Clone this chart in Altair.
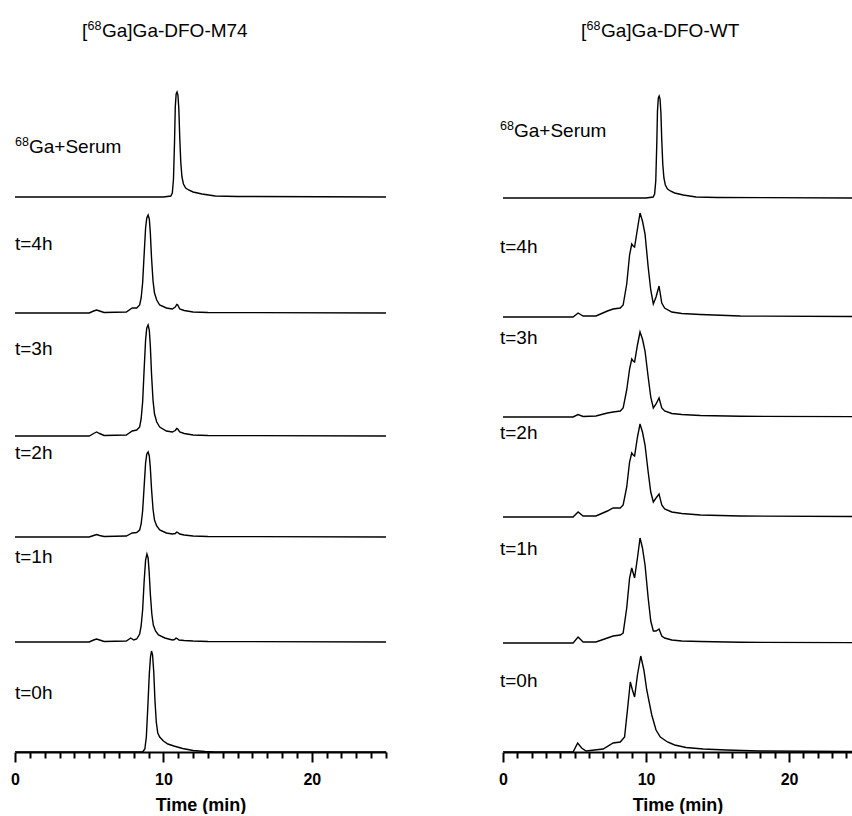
import altair as alt
import pandas as pd

# ---------------- data ----------------
TRACE_NAMES = ["serum", "4h", "3h", "2h", "1h", "0h"]

# Left panel: [68Ga]Ga-DFO-M74
L_SERUM_T = [0, 10.0, 10.5, 10.6, 10.68, 10.75, 10.8, 10.86, 10.92, 10.98, 11.04, 11.1, 11.17, 11.25, 11.35, 11.5, 11.7, 12.0, 12.6, 13.5, 15, 25]
L_SERUM_Y = [0, 0, 1, 4, 18, 55, 90, 103, 105, 102, 88, 60, 35, 20, 13, 9, 7, 5, 3, 1, 0.5, 0]

L_4H_T = [0, 5.0, 5.3, 5.5, 5.7, 6.0, 7.5, 7.9, 8.2, 8.4, 8.5, 8.6, 8.7, 8.8, 8.88, 8.97, 9.05, 9.12, 9.2, 9.3, 9.4, 9.55, 9.75, 10.2, 10.6, 10.8, 10.9, 10.97, 11.1, 11.4, 12.0, 13, 25]
L_4H_Y = [0, 0, 2, 3, 2, 0.5, 1, 5, 5, 8, 15, 30, 58, 85, 95, 98, 94, 80, 55, 32, 20, 13, 8, 5, 4, 6, 8.5, 8, 4, 2.5, 1, 0.5, 0]

L_3H_T = [0, 5.0, 5.3, 5.5, 5.7, 6.0, 7.5, 7.9, 8.2, 8.4, 8.5, 8.6, 8.7, 8.8, 8.88, 8.97, 9.05, 9.12, 9.2, 9.3, 9.4, 9.55, 9.75, 10.2, 10.6, 10.8, 10.9, 10.97, 11.1, 11.4, 12.0, 13, 25]
L_3H_Y = [0, 0, 2.5, 4, 2.5, 0.5, 1, 5, 6, 9, 17, 34, 66, 96, 108, 111, 106, 90, 62, 36, 22, 14, 9, 5, 4, 5.5, 7.5, 7, 4, 2.5, 1, 0.5, 0]

L_2H_T = [0, 5.0, 5.3, 5.5, 5.7, 6.0, 7.5, 7.9, 8.2, 8.4, 8.5, 8.6, 8.7, 8.8, 8.88, 8.97, 9.05, 9.12, 9.2, 9.3, 9.4, 9.55, 9.75, 10.2, 10.6, 10.8, 10.9, 10.97, 11.1, 11.4, 12.0, 13, 25]
L_2H_Y = [0, 0, 1.5, 2.5, 1.5, 0.5, 1, 4, 4.5, 7, 13, 26, 50, 74, 83, 85, 81, 69, 48, 28, 17, 11, 7, 4, 3, 3.5, 5, 4.5, 3, 2, 1, 0.5, 0]

L_1H_T = [0, 5.0, 5.3, 5.5, 5.7, 6.0, 7.5, 7.8, 8.0, 8.2, 8.4, 8.5, 8.6, 8.7, 8.8, 8.89, 8.97, 9.04, 9.12, 9.22, 9.32, 9.47, 9.67, 10.1, 10.6, 10.75, 10.85, 10.92, 11.05, 11.4, 12, 13, 25]
L_1H_Y = [0, 0, 2, 3, 2, 0.5, 1, 4, 2, 3, 8, 16, 32, 60, 82, 88, 84, 70, 48, 28, 17, 11, 7, 4, 2, 2.5, 4, 3.5, 2, 1.5, 1, 0.5, 0]

L_0H_T = [0, 8.6, 8.75, 8.85, 8.95, 9.05, 9.13, 9.2, 9.27, 9.35, 9.43, 9.52, 9.62, 9.75, 10.0, 10.3, 10.7, 11.3, 12.0, 12.8, 13.5, 25]
L_0H_Y = [0, 0, 3, 15, 45, 78, 95, 101, 97, 80, 52, 30, 19, 15, 11, 8, 6, 3.5, 1.5, 0.5, 0, 0]

# Right panel: [68Ga]Ga-DFO-WT
R_SERUM_T = [0, 10.0, 10.5, 10.6, 10.68, 10.75, 10.8, 10.86, 10.92, 10.98, 11.04, 11.1, 11.17, 11.25, 11.35, 11.5, 11.7, 12.0, 12.6, 13.5, 15, 25]
R_SERUM_Y = [0, 0, 1, 4, 17, 53, 87, 100, 102, 99, 85, 58, 34, 20, 13, 9, 7, 5, 3, 1, 0.5, 0]

R_T = [0, 4.9, 5.25, 5.6, 6.5, 7.3, 7.7, 8.2, 8.4, 8.65, 8.85, 9.0, 9.1, 9.2, 9.4, 9.58, 9.75, 9.93, 10.15, 10.33, 10.51, 10.7, 10.91, 11.1, 11.3, 11.8, 12.5, 13.8, 16.6, 25]
R_4H_Y = [0, 0, 4, 1, 1, 6, 8, 9, 12, 33, 62, 73, 71, 70, 88, 104, 96, 83, 50, 27, 13, 20, 31, 14, 9, 5, 3.5, 2.5, 1, 0.5]
R_3H_Y = [0, 0, 2.5, 0.5, 1, 4, 5, 6, 9, 27, 48, 58, 56, 55, 72, 85, 78, 66, 40, 20, 9, 13, 19, 9, 6, 3.5, 2.5, 1.5, 0.7, 0.3]
R_2H_Y = [0, 0, 5, 1, 1, 6, 9, 9, 12, 30, 55, 64, 62, 61, 80, 93, 85, 72, 45, 25, 15, 19, 23, 12, 8, 5, 3.5, 2, 1, 0.5]
R_1H_Y = [0, 0, 6, 1, 1, 5, 7, 8, 10, 35, 65, 75, 70, 65, 85, 105, 95, 78, 45, 22, 12, 12, 14, 7, 5, 3, 2, 1.5, 0.7, 0.3]

R_0H_T = [0, 4.9, 5.22, 5.5, 5.8, 7.0, 7.7, 8.2, 8.5, 8.7, 8.9, 9.05, 9.2, 9.4, 9.63, 9.85, 10.05, 10.4, 10.7, 11.0, 11.5, 12.0, 12.8, 14.0, 15.6, 17.9, 25]
R_0H_Y = [0, 0, 9, 4, 1, 3, 9, 10, 15, 42, 70, 62, 55, 77, 96, 82, 62, 37, 22, 15, 10, 7, 4.5, 3, 2, 1, 0.5]

# vertical stacking offset of each trace (same units as signal)
LEFT_OFFSETS = [555, 439, 316, 215, 110, 0]
RIGHT_OFFSETS = [554, 435, 335, 235, 109, 0]

LABELS = ["Ga+Serum", "t=4h", "t=3h", "t=2h", "t=1h", "t=0h"]
LEFT_LABEL_Y = [599, 502, 397, 293, 189, 53]
RIGHT_LABEL_Y = [615, 499, 408, 313, 197, 65]

LEFT_TITLE = "Ga]Ga-DFO-M74"
RIGHT_TITLE = "Ga]Ga-DFO-WT"
X_TICKS = list(range(0, 26))

FONT = "Liberation Sans"
Y_TOP = 742

LEFT_SERIES = [(L_SERUM_T, L_SERUM_Y), (L_4H_T, L_4H_Y), (L_3H_T, L_3H_Y),
               (L_2H_T, L_2H_Y), (L_1H_T, L_1H_Y), (L_0H_T, L_0H_Y)]
RIGHT_SERIES = [(R_SERUM_T, R_SERUM_Y), (R_T, R_4H_Y), (R_T, R_3H_Y),
                (R_T, R_2H_Y), (R_T, R_1H_Y), (R_0H_T, R_0H_Y)]


def build_traces(series, offsets):
    frames = []
    for name, (t, s), off in zip(TRACE_NAMES, series, offsets):
        frames.append(pd.DataFrame({"time": t, "y": [v + off for v in s], "trace": name}))
    return pd.concat(frames, ignore_index=True)


def panel(series, offsets, label_y, title_rest, xmax, width, label_dx, title_x):
    traces = build_traces(series, offsets)
    labels = pd.DataFrame({"time": [0.0] * len(LABELS), "y": label_y, "text": LABELS})
    sup = labels.iloc[[0]].copy()
    sup["text"] = "68"

    axis = alt.Axis(
        values=X_TICKS, title="Time (min)", grid=False,
        labelExpr="datum.value % 10 === 0 ? datum.label : ''",
        tickSize={"condition": {"test": "datum.value % 10 === 0", "value": 10}, "value": 6},
        tickWidth=2, tickColor="black", domainWidth=2, domainColor="black",
        labelFont=FONT, labelFontWeight="bold", labelFontSize=16, labelColor="black",
        labelFlush=False, labelOverlap=False, labelPadding=9,
        titleFont=FONT, titleFontWeight="bold", titleFontSize=18, titleColor="black",
        titlePadding=9,
    )
    xs = alt.Scale(domain=[0, xmax], nice=False, zero=False)
    ys = alt.Scale(domain=[0, Y_TOP], nice=False)
    x_enc = alt.X("time:Q", scale=xs, axis=axis)
    y_enc = alt.Y("y:Q", scale=ys, axis=None)

    lines = alt.Chart(traces).mark_line(color="black", strokeWidth=1.4, clip=True).encode(
        x=x_enc, y=y_enc, detail="trace:N",
    )
    first = labels.iloc[[0]]
    rest = labels.iloc[1:]
    txt_main = alt.Chart(rest).mark_text(align="left", baseline="alphabetic", font=FONT,
                                         fontSize=19, color="black", dx=label_dx).encode(
        x=x_enc, y=y_enc, text="text:N")
    txt_serum = alt.Chart(first).mark_text(align="left", baseline="alphabetic", font=FONT,
                                           fontSize=19, color="black", dx=label_dx + 14).encode(
        x=x_enc, y=y_enc, text="text:N")
    txt_sup = alt.Chart(sup).mark_text(align="left", baseline="alphabetic", font=FONT,
                                       fontSize=12.5, color="black", dx=label_dx, dy=-7).encode(
        x=x_enc, y=y_enc, text="text:N")

    tdf = pd.DataFrame({"a": ["["], "b": ["68"], "c": [title_rest]})
    t1 = alt.Chart(tdf).mark_text(align="left", baseline="alphabetic", font=FONT, fontSize=19,
                                  color="black").encode(
        x=alt.value(title_x), y=alt.value(27), text="a:N")
    t2 = alt.Chart(tdf).mark_text(align="left", baseline="alphabetic", font=FONT, fontSize=12.5,
                                  color="black").encode(
        x=alt.value(title_x + 5.5), y=alt.value(20), text="b:N")
    t3 = alt.Chart(tdf).mark_text(align="left", baseline="alphabetic", font=FONT, fontSize=19,
                                  color="black").encode(
        x=alt.value(title_x + 20), y=alt.value(27), text="c:N")

    return alt.layer(lines, txt_main, txt_serum, txt_sup, t1, t2, t3).properties(
        width=width, height=Y_TOP)


left = panel(LEFT_SERIES, LEFT_OFFSETS, LEFT_LABEL_Y, LEFT_TITLE, 25, 371, 0, 67)
right = panel(RIGHT_SERIES, RIGHT_OFFSETS, RIGHT_LABEL_Y, RIGHT_TITLE, 24.4, 349, -3, 78)

chart = alt.hconcat(left, right, spacing=117, bounds="flush").properties(
    padding={"left": 10, "top": 10, "right": 0, "bottom": 0},
    background="white",
).configure_view(stroke=None)

chart.save("out.html", embed_options={"renderer": "svg", "actions": False})
